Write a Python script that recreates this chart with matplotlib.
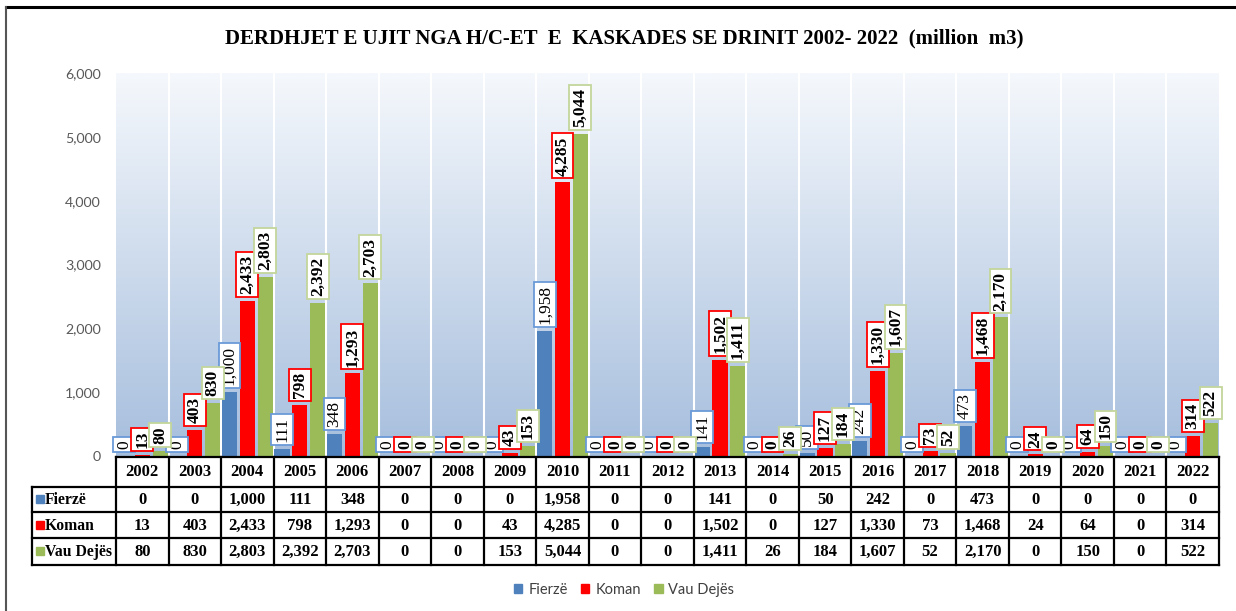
import numpy as np
import matplotlib
matplotlib.use('Agg')
import matplotlib.pyplot as plt
from matplotlib.lines import Line2D
from matplotlib.patches import Rectangle

years = [str(y) for y in range(2002, 2023)]
fierze = [0, 0, 1000, 111, 348, 0, 0, 0, 1958, 0, 0, 141, 0, 50, 242, 0, 473, 0, 0, 0, 0]
koman = [13, 403, 2433, 798, 1293, 0, 0, 43, 4285, 0, 0, 1502, 0, 127, 1330, 73, 1468, 24, 64, 0, 314]
vau_dejes = [80, 830, 2803, 2392, 2703, 0, 0, 153, 5044, 0, 0, 1411, 26, 184, 1607, 52, 2170, 0, 150, 0, 522]
series_names = ['Fierzë', 'Koman', 'Vau Dejës']
yticks = [0, 1000, 2000, 3000, 4000, 5000, 6000]
title = 'DERDHJET E UJIT NGA H/C-ET  E  KASKADES SE DRINIT 2002- 2022  (million  m3)'

bar_colors = ['#4F81BD', '#FF0000', '#9BBB59']
box_colors = ['#6A9AD8', '#FF0000', '#C3D69B']
label_weights = ['normal', 'bold', 'bold']
SERIF = 'Liberation Serif'
SANS = 'Lato'

W, H = 1236, 611
fig = plt.figure(figsize=(W / 100, H / 100), dpi=100)


def px(l, t, r, b):
    return [l / W, 1 - b / H, (r - l) / W, (b - t) / H]


# frame lines (top and left)
fig.add_artist(Line2D([6 / W, 1], [1 - 7 / H, 1 - 7 / H], color='black', lw=2.2))
fig.add_artist(Line2D([6 / W, 6 / W], [0, 1 - 7 / H], color='#555555', lw=1.5))

fig.text(624 / W, 1 - 38 / H, title, ha='center', va='center',
         fontsize=15.0, fontweight='bold', family=SERIF)

ax = fig.add_axes(px(116, 73, 1219, 456))
n = len(years)
x = np.arange(n)
ax.set_xlim(-0.5, n - 0.5)
ax.set_ylim(0, 6000)

top = np.array([245, 248, 252]) / 255
bot = np.array([166, 190, 221]) / 255
g = np.linspace(0, 1, 256)[:, None, None]
img = top + (bot - top) * g
ax.imshow(img, extent=(-0.5, n - 0.5, 0, 6000), origin='upper', aspect='auto', zorder=0)

for b in np.arange(0.5, n - 0.5):
    ax.axvline(b, color='white', lw=1.5, zorder=1)

series = [fierze, koman, vau_dejes]
offsets = [-0.34, 0.0, 0.34]
for s, vals in enumerate(series):
    ax.bar(x + offsets[s], vals, width=0.29, color=bar_colors[s], zorder=2)
    for i, v in enumerate(vals):
        ax.annotate(f'{v:,}', (x[i] + offsets[s], v), xytext=(0, 5.0), textcoords='offset points',
                    rotation=90, ha='center', va='bottom', fontsize=12.5,
                    fontweight=label_weights[s], family=SERIF, zorder=4,
                    bbox=dict(boxstyle='square,pad=0.17', fc='white', ec=box_colors[s], lw=1.3))

ax.set_yticks(yticks)
ax.set_yticklabels([f'{t:,}' for t in yticks], family=SANS, fontsize=10.2, color='#595959')
ax.tick_params(axis='y', length=0, pad=11)
ax.set_xticks([])
for sp in ax.spines.values():
    sp.set_visible(False)

# data table
tax = fig.add_axes(px(32, 457, 1219, 565))
colw = (1219 - 116) / n
xl = -0.5 - (116 - 32) / colw
xr = n - 0.5
tax.set_xlim(xl, xr)
rows_y = [0, 30, 55, 81, 108]
tax.set_ylim(108, 0)
tax.axis('off')
lk = dict(color='black', lw=1.6, clip_on=False, solid_capstyle='projecting')
tax.plot([-0.5, xr], [0, 0], **lk)
for yy in rows_y[1:]:
    tax.plot([xl, xr], [yy, yy], **lk)
tax.plot([xl, xl], [30, 108], **lk)
for xx in np.arange(-0.5, n):
    tax.plot([xx, xx], [0, 108], **lk)

for i, yr in enumerate(years):
    tax.text(i, 15.5, yr, ha='center', va='center', fontsize=12, fontweight='bold', family=SERIF)
for s, vals in enumerate(series):
    yc = (rows_y[s + 1] + rows_y[s + 2]) / 2
    for i, v in enumerate(vals):
        tax.text(i, yc + 0.5, f'{v:,}', ha='center', va='center', fontsize=12, fontweight='bold', family=SERIF)
    tax.add_patch(Rectangle((xl + 0.08, yc - 4.5), 7.5 / colw, 8, color=bar_colors[s], clip_on=False))
    tax.text(xl + 0.08 + 8.5 / colw, yc + 0.5, series_names[s], ha='left', va='center', fontsize=11.3,
             fontweight='bold', family=SERIF)

handles = [Rectangle((0, 0), 1, 1, color=c) for c in bar_colors]
leg = fig.legend(handles, series_names, loc='center', bbox_to_anchor=(624 / W, 1 - 590 / H), ncol=3,
                 frameon=False, handlelength=0.6, handleheight=0.6, handletextpad=0.4,
                 columnspacing=0.9, prop={'family': SANS, 'size': 10.5})
for t in leg.get_texts():
    t.set_color('#404040')

fig.savefig('out.png', dpi=100)
